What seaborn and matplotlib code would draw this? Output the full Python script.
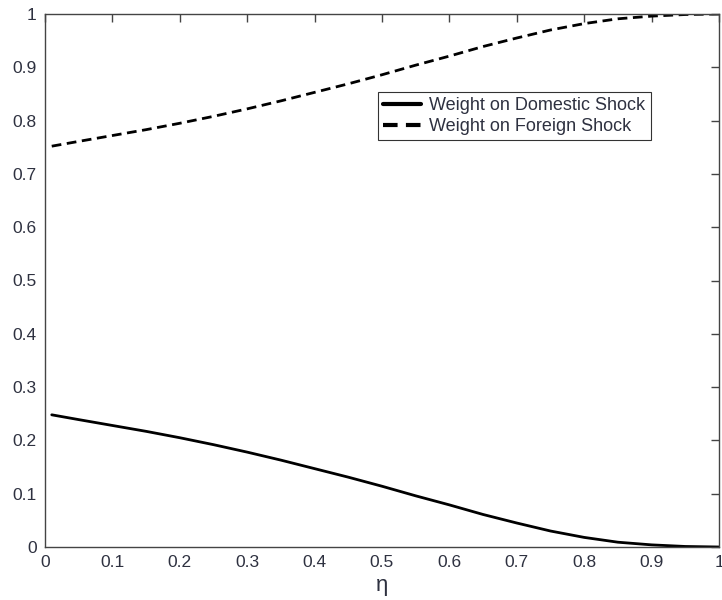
import matplotlib
matplotlib.use("Agg")
import matplotlib.pyplot as plt
import seaborn as sns
import numpy as np

# values
eta = [0.01, 0.05, 0.1, 0.15, 0.2, 0.25, 0.3, 0.35, 0.4, 0.45, 0.5,
       0.55, 0.6, 0.65, 0.7, 0.75, 0.8, 0.85, 0.9, 0.95, 1.0]
w_domestic = [0.248, 0.239, 0.228, 0.217, 0.205, 0.192, 0.178, 0.163, 0.147, 0.131, 0.114,
              0.096, 0.079, 0.061, 0.045, 0.030, 0.018, 0.009, 0.004, 0.001, 0.0]
w_foreign = [0.752, 0.761, 0.772, 0.783, 0.795, 0.808, 0.822, 0.837, 0.853, 0.869, 0.886,
             0.904, 0.921, 0.939, 0.955, 0.970, 0.982, 0.991, 0.996, 0.999, 1.0]
ticks = [0, 0.1, 0.2, 0.3, 0.4, 0.5, 0.6, 0.7, 0.8, 0.9, 1]
tick_labels = ["0", "0.1", "0.2", "0.3", "0.4", "0.5", "0.6", "0.7", "0.8", "0.9", "1"]

sns.set_style("white")
plt.rcParams['font.family'] = ['Liberation Sans', 'DejaVu Sans']

fig = plt.figure(figsize=(7.22, 6.0), dpi=100)
ax = fig.add_axes([45 / 722, 1 - 547 / 600, 674 / 722, 533 / 600])

sns.lineplot(x=eta, y=w_domestic, ax=ax, color='black', lw=2.0,
             label='Weight on Domestic Shock')
sns.lineplot(x=eta, y=w_foreign, ax=ax, color='black', lw=2.0,
             label='Weight on Foreign Shock')
ax.lines[1].set_dashes((3.5, 2))

ax.set_xlim(0, 1)
ax.set_ylim(0, 1)
ax.set_xticks(ticks)
ax.set_xticklabels(tick_labels)
ax.set_yticks(ticks)
ax.set_yticklabels(tick_labels)

text_col = '#2e3140'
ax.tick_params(direction='in', length=6, width=1, colors='#444444',
               labelcolor=text_col, labelsize=12.5, top=True, right=True, pad=6)
for s in ax.spines.values():
    s.set_color('#444444')
    s.set_linewidth(1)
    s.set_visible(True)

ax.set_xlabel('η', fontsize=16, color=text_col, labelpad=3)

leg = ax.legend(loc='upper left', bbox_to_anchor=(0.494, 0.854), fontsize=13,
                frameon=True, fancybox=False, handlelength=2.1, handletextpad=0.45,
                borderpad=0.3, labelspacing=0.2, borderaxespad=0)
leg.get_frame().set_edgecolor('black')
leg.get_frame().set_linewidth(0.8)
for h in leg.get_lines():
    h.set_linewidth(3)
for t in leg.get_texts():
    t.set_color(text_col)

fig.savefig('out.png', dpi=100)
